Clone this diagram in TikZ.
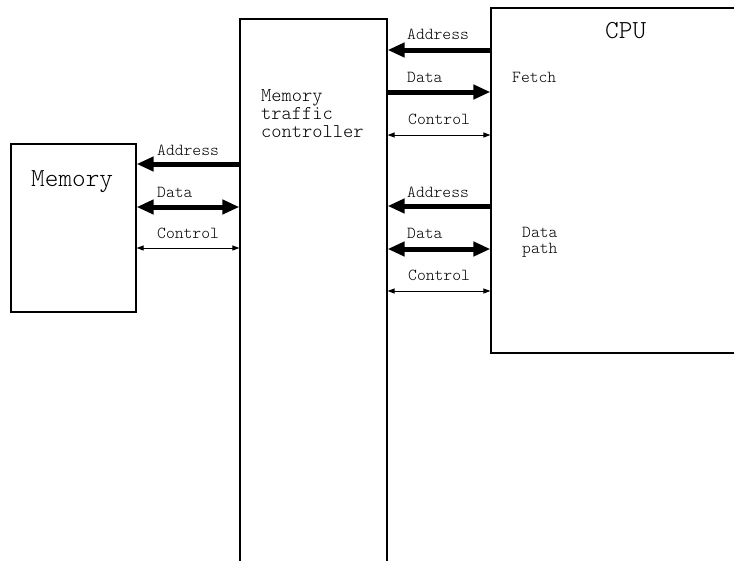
\documentclass[tikz,border=0pt]{standalone}
\usepackage{fontspec}
\usetikzlibrary{arrows.meta,fit}

% light typewriter face for all the lettering
\newcommand{\tw}{\ttfamily\fontseries{l}\selectfont}

\tikzset{
  unit/.style={draw=black, line width=1.2pt, inner sep=0pt, fill=none},
  label/.style={font=\tw\fontsize{16.8}{18}\selectfont, anchor=base west, inner sep=0pt},
  bigtext/.style={font=\tw\fontsize{26}{28}\selectfont, anchor=base west, inner sep=0pt},
  midtext/.style={font=\tw\fontsize{19.5}{18}\selectfont, anchor=base west, inner sep=0pt},
  bus/.style={line width=5pt, -{Triangle[length=17pt,width=14pt]}},
  busboth/.style={line width=5pt, {Triangle[length=17pt,width=14pt]}-{Triangle[length=17pt,width=14pt]}},
  ctrl/.style={line width=1pt, {Triangle[length=7pt,width=5pt]}-{Triangle[length=7pt,width=5pt]}}
}

\begin{document}
\begin{tikzpicture}[x=1pt,y=-1pt]
\useasboundingbox (0,0) rectangle (734,560);
\clip (0,0) rectangle (734,560);

% the three units
\node[unit, fit={(11,144) (136,312)}] (mem) {};
\node[unit, fit={(240,19) (387,600)}] (mtc) {};
\node[unit, fit={(491,8) (800,353)}] (cpu) {};

% unit names
\node[bigtext] (memname) at (31,186) {Memory};
\node[midtext, align=left, anchor=north west] (mtcname) at (261,89.5) {Memory\\traffic\\controller};
\node[bigtext] (cpuname) at (605,38) {CPU};
\node[label] (fetch) at (512,82) {Fetch};
\node[label, font=\tw\fontsize{16.8}{16.5}\selectfont, align=left, anchor=north west] (datapath) at (522,227) {Data\\path};

% fetch buses (CPU <-> controller)
\draw[bus] (cpu.west |- 0,50) -- (mtc.east |- 0,50);
\draw[bus] (mtc.east |- 0,92) -- (cpu.west |- 0,92);
\draw[ctrl] (mtc.east |- 0,135) -- (cpu.west |- 0,135);
\node[label] (fa) at (407,39) {Address};
\node[label] (fd) at (407,82) {Data};
\node[label] (fc) at (408,124) {Control};

% data path buses (CPU <-> controller)
\draw[bus] (cpu.west |- 0,206) -- (mtc.east |- 0,206);
\draw[busboth] (mtc.east |- 0,249) -- (cpu.west |- 0,249);
\draw[ctrl] (mtc.east |- 0,291) -- (cpu.west |- 0,291);
\node[label] (da) at (407,197) {Address};
\node[label] (dd) at (407,238) {Data};
\node[label] (dc) at (408,280) {Control};

% memory buses (controller <-> memory)
\draw[bus] (mtc.west |- 0,164) -- (mem.east |- 0,164);
\draw[busboth] (mem.east |- 0,207) -- (mtc.west |- 0,207);
\draw[ctrl] (mem.east |- 0,248) -- (mtc.west |- 0,248);
\node[label] (ma) at (157,155) {Address};
\node[label] (md) at (157,197) {Data};
\node[label] (mc) at (157,238) {Control};
\end{tikzpicture}
\end{document}
